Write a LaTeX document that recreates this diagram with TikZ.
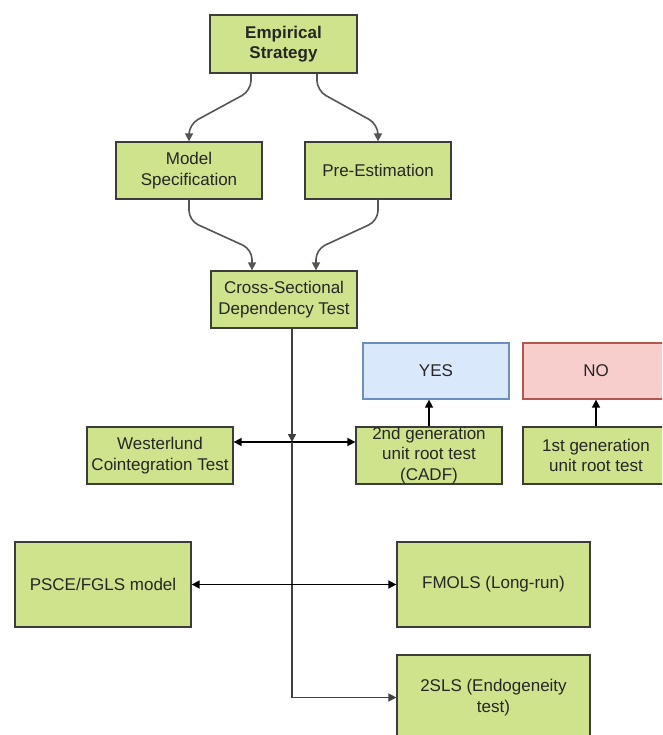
\documentclass[tikz,border=0pt]{standalone}
\usepackage{fontspec}
\setmainfont{Liberation Sans}
\usetikzlibrary{arrows.meta,calc}
\definecolor{boxgreen}{HTML}{CFE38C}
\definecolor{boxedge}{HTML}{3C3C3C}
\definecolor{yesfill}{HTML}{DAE8FC}
\definecolor{yesedge}{HTML}{6C8EBF}
\definecolor{nofill}{HTML}{F8CECC}
\definecolor{noedge}{HTML}{B85450}
\definecolor{curvegray}{HTML}{555555}
\begin{document}
\begin{tikzpicture}[x=1pt,y=-1pt,
  every node/.style={font=\fontsize{17}{20.5}\selectfont, text=black!85, align=center, inner sep=0pt},
  gbox/.style={draw=boxedge, fill=boxgreen, line width=1.3pt, minimum width=146pt, minimum height=57pt},
  conn/.style={line width=1.6pt, -{Triangle[length=8pt,width=8pt]}},
  dconn/.style={line width=1.6pt, {Triangle[length=8pt,width=8pt]}-{Triangle[length=8pt,width=8pt]}},
  curv/.style={conn, draw=curvegray, rounded corners=10pt}]
\useasboundingbox (0,0) rectangle (662,735);
\clip (0,0) rectangle (662,735);
\fill[white] (0,0) rectangle (662,735);

\node[gbox, minimum width=147pt, minimum height=58pt] (es) at (283.5,44) {\bfseries Empirical\\\bfseries Strategy};
\node[gbox] (ms) at (189,170.5) {Model\\Specification};
\node[gbox] (pe) at (378,170.5) {Pre-Estimation};
\node[gbox] (csd) at (284,299.5) {Cross-Sectional\\Dependency Test};
\node[draw=yesedge, fill=yesfill, line width=1.3pt, minimum width=146pt, minimum height=56pt] (yes) at (436,371) {YES};
\node[draw=noedge, fill=nofill, line width=1.3pt, minimum width=146pt, minimum height=56pt] (no) at (596,371) {NO};
\node[gbox] (west) at (160,455.5) {Westerlund\\Cointegration Test};
\node[gbox] (g2) at (429,455.5) {2nd generation\\unit root test\\(CADF)};
\node[gbox] (g1) at (596,455.5) {1st generation\\unit root test};
\node[gbox, minimum width=176pt, minimum height=85pt] (psce) at (103,584.5) {PSCE/FGLS model};
\node[gbox, minimum width=193pt, minimum height=85pt] (fmols) at (493.5,584.5) {FMOLS (Long-run)};
\node[gbox, minimum width=193pt, minimum height=85pt] (tsls) at (493.5,697.5) {2SLS (Endogeneity\\test)};

% curved connectors
\draw[curv] ($(es.south)+(-32.5,0)$) -- ++(0,17) -- ($(ms.north)+(0,-17)$) -- (ms.north);
\draw[curv] ($(es.south)+(33.5,0)$) -- ++(0,17) -- ($(pe.north)+(0,-17)$) -- (pe.north);
\draw[curv] (ms.south) -- ++(0,21) -- ($(csd.north)+(-32,-21)$) -- ($(csd.north)+(-32,0)$);
\draw[curv] (pe.south) -- ++(0,21) -- ($(csd.north)+(32,-21)$) -- ($(csd.north)+(32,0)$);

% junction
\coordinate (j) at (292,442);
\draw[conn, draw=black!75] (csd.south -| j) -- (j);
\draw[dconn] (west.east |- j) -- (g2.west |- j);
\draw[conn, draw=black!75] (j) |- (tsls.west);
\draw[dconn] (psce.east) -- (fmols.west);
\draw[conn] (g2.north) -- (g2.north |- yes.south);
\draw[conn] (g1.north) -- (g1.north |- no.south);
\end{tikzpicture}
\end{document}
